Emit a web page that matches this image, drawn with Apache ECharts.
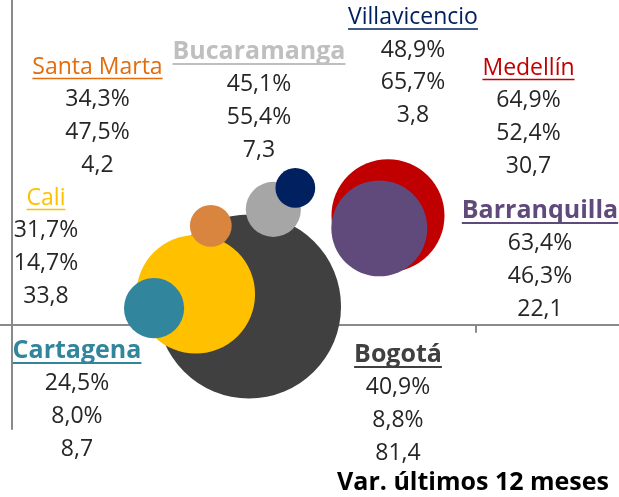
<!DOCTYPE html>
<html>
<head>
<meta charset="utf-8">
<script src="https://cdn.jsdelivr.net/npm/echarts@6/dist/echarts.min.js"></script>
<style>html,body{margin:0;padding:0;background:#fff}#c{width:619px;height:497px}</style>
</head>
<body>
<div id="c"></div>
<script>
// ---- data ----
const cities = ['Bogotá', 'Medellín', 'Barranquilla', 'Cali', 'Cartagena', 'Bucaramanga', 'Santa Marta', 'Villavicencio'];
const xValues = [40.9, 64.9, 63.4, 31.7, 24.5, 45.1, 34.3, 48.9];
const yValues = [8.8, 52.4, 46.3, 14.7, 8.0, 55.4, 47.5, 65.7];
const sizeValues = [81.4, 30.7, 22.1, 33.8, 8.7, 7.3, 4.2, 3.8];
const footnote = 'Var. últimos 12 meses';

// ---- styles / layout ----
const bubbleColors = ['#404040', '#C00000', '#604A7B', '#FFC000', '#31859C', '#A6A6A6', '#D9843F', '#002060'];
const titleColors = ['#404040', '#C00000', '#604A7B', '#FFC000', '#31859C', '#BFBFBF', '#E46C0A', '#002060'];
const titleBold = [true, false, true, false, true, true, false, false];
const labelPos = [[398, 355], [528.5, 68], [540, 211], [46, 198], [77, 351], [259, 52], [97.5, 67], [413, 17.5]];
const FONT_FAMILY = '"Open Sans", sans-serif';
const FS = 23;
const FS_BOLD = 25;
const ROW = 32.7;

const fmt = v => v.toFixed(1).replace('.', ',');
const mctx = document.createElement('canvas').getContext('2d');
function measure(font, s) { mctx.font = font; return mctx.measureText(s).width; }

const graphics = [];
cities.forEach((c, i) => {
  const [cx, ty] = labelPos[i];
  const font = titleBold[i] ? ('bold ' + FS_BOLD + 'px ' + FONT_FAMILY) : (FS + 'px ' + FONT_FAMILY);
  graphics.push({
    type: 'text', x: cx, y: ty, z: 10,
    style: { text: c, fill: titleColors[i], font: font, align: 'center', verticalAlign: 'middle', textAlign: 'center', textVerticalAlign: 'middle' }
  });
  const w = measure(font, c);
  const uy = ty + (titleBold[i] ? 12 : 11.5);
  graphics.push({
    type: 'line', z: 10,
    shape: { x1: cx - w / 2, y1: uy, x2: cx + w / 2, y2: uy },
    style: { stroke: titleColors[i], lineWidth: titleBold[i] ? 2 : 1.5 }
  });
  const vals = [fmt(xValues[i]) + '%', fmt(yValues[i]) + '%', fmt(sizeValues[i])];
  vals.forEach((t, k) => {
    graphics.push({
      type: 'text', x: cx, y: ty + ROW * (k + 1), z: 10,
      style: { text: t, fill: '#262626', font: FS + 'px ' + FONT_FAMILY, align: 'center', verticalAlign: 'middle', textAlign: 'center', textVerticalAlign: 'middle' }
    });
  });
});
graphics.push({
  type: 'text', x: 473, y: 483, z: 10,
  style: { text: footnote, fill: '#000', font: 'bold 25px ' + FONT_FAMILY, align: 'center', verticalAlign: 'middle', textAlign: 'center', textVerticalAlign: 'middle' }
});

const chart = echarts.init(document.getElementById('c'), null, { renderer: 'canvas' });
chart.setOption({
  animation: false,
  backgroundColor: '#fff',
  grid: { left: 0, right: 0, top: 0, bottom: 68, containLabel: false },
  xAxis: {
    type: 'value', min: -2.107, max: 104.8,
    axisLine: { onZero: true, lineStyle: { color: '#8A8A8A', width: 2 } },
    axisTick: { show: true, length: 8, lineStyle: { color: '#8A8A8A', width: 2 }, customValues: [0, 40, 80] },
    axisLabel: { show: false },
    splitLine: { show: false }
  },
  yAxis: {
    type: 'value', min: -50, max: 155.9,
    axisLine: { show: true, onZero: true, lineStyle: { color: '#8A8A8A', width: 2 } },
    axisTick: { show: false },
    axisLabel: { show: false },
    splitLine: { show: false }
  },
  series: [{
    type: 'scatter',
    data: cities.map((c, i) => ({
      name: c,
      value: [xValues[i], yValues[i], sizeValues[i]],
      itemStyle: { color: bubbleColors[i], opacity: 1 }
    })),
    symbolSize: v => 20.4 * Math.sqrt(v[2]),
    emphasis: { disabled: true }
  }],
  graphic: graphics
});
</script>
</body>
</html>
